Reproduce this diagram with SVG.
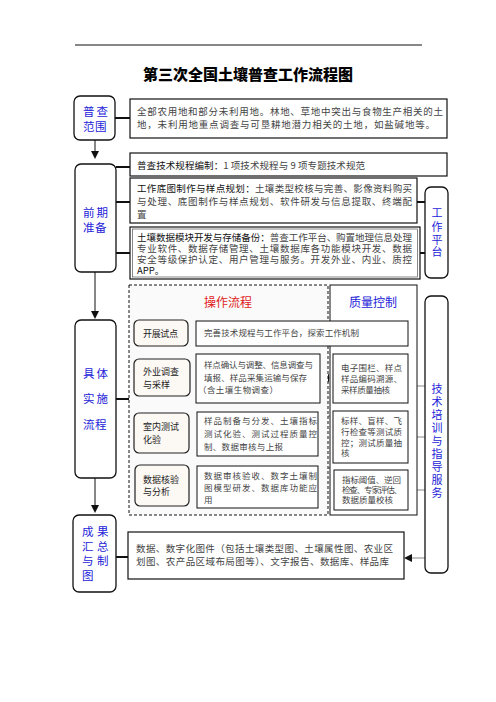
<svg xmlns="http://www.w3.org/2000/svg" width="496" height="702" viewBox="0 0 496 702">
<style>
text{font-family:"Noto Sans CJK SC","Noto Sans",sans-serif}
.b{fill:#fff;stroke:#111;stroke-width:1.2}
.bi{fill:#fff;stroke:#111;stroke-width:1}
.lb{fill:#fff;stroke:#111;stroke-width:1.3}
.on{fill:#fcf8f4;stroke:#222;stroke-width:1.2}
.bl{fill:#2323d8;font-size:11.5px}
.bv{fill:#2323d8;font-size:11px;text-anchor:middle}
.t{fill:#444;font-size:9.5px}
.s{fill:#444;font-size:8.5px}
.k{fill:#111}
.n{fill:#222;font-size:9px}
.c2{stroke:#111;stroke-width:2;fill:none}
.c1{stroke:#111;stroke-width:1;fill:none}
.cg{stroke:#888;stroke-width:1;fill:none}
.ah{fill:#111}
</style>
<rect width="496" height="702" fill="#fff"/>
<line x1="75" y1="45" x2="422" y2="45" stroke="#111" stroke-width="1"/>
<text x="248" y="80" text-anchor="middle" font-size="15" font-weight="900" fill="#000">第三次全国土壤普查工作流程图</text>

<g id="connectors">
<line class="c2" x1="115" y1="118" x2="130" y2="118"/>
<line class="c1" x1="95" y1="140" x2="95" y2="152"/>
<polygon class="ah" points="91,151 99,151 95,159"/>
<line class="c2" x1="116" y1="167" x2="130" y2="167"/>
<line class="c2" x1="116" y1="202" x2="130" y2="202"/>
<line class="c2" x1="116" y1="253" x2="130" y2="253"/>
<line class="c2" x1="417" y1="202" x2="425" y2="202"/>
<line class="c2" x1="420" y1="253" x2="425" y2="253"/>
<line class="c1" x1="95" y1="272" x2="95" y2="311"/>
<polygon class="ah" points="91,311 99,311 95,319"/>
<line class="c2" x1="116" y1="399" x2="130" y2="399"/>
<line class="c1" x1="95" y1="478" x2="95" y2="505"/>
<polygon class="ah" points="91,505 99,505 95,513"/>
<line class="c2" x1="116" y1="557" x2="128" y2="557"/>
<line class="c1" x1="188" y1="333" x2="196" y2="333"/>
<line class="cg" x1="190" y1="378" x2="196" y2="378"/>
<line class="cg" x1="189" y1="415" x2="197" y2="415"/>
<line class="cg" x1="189" y1="467" x2="197" y2="467"/>
<line class="cg" x1="329" y1="378" x2="333" y2="378"/>
<polygon class="ah" points="321,378 329,374 329,382"/>
<line class="cg" x1="326" y1="416" x2="333" y2="416"/>
<polygon class="ah" points="318,416 326,412 326,420"/>
<line class="cg" x1="326" y1="468" x2="334" y2="468"/>
<polygon class="ah" points="318,468 326,464 326,472"/>
<line class="cg" x1="416" y1="386" x2="425" y2="386"/>
<polygon class="ah" points="408,386 416,382 416,390"/>
<line class="cg" x1="416" y1="437" x2="425" y2="437"/>
<polygon class="ah" points="408,437 416,433 416,441"/>
<line class="cg" x1="416" y1="490" x2="425" y2="490"/>
<polygon class="ah" points="408,490 416,486 416,494"/>
<line class="cg" x1="412" y1="558" x2="425" y2="558"/>
<polygon class="ah" points="404,558 412,554 412,562"/>
</g>

<g id="n-scope">
<rect class="lb" x="74" y="96" width="41" height="44" rx="6"/>
<text class="bl" x="83" y="116" letter-spacing="2">普查</text>
<text class="bl" x="83" y="130.5" letter-spacing="0.5">范围</text>
</g>
<g id="b-scope">
<rect class="b" x="130" y="99" width="317" height="39"/>
<text class="t" x="137" y="115" textLength="306">全部农用地和部分未利用地。林地、草地中突出与食物生产相关的土</text>
<text class="t" x="137" y="127.5" textLength="298">地，未利用地重点调查与可垦耕地潜力相关的土地，如盐碱地等。</text>
</g>

<g id="n-prep">
<rect class="lb" x="75" y="164" width="41" height="108" rx="6"/>
<text class="bl" x="83" y="216.5" letter-spacing="2">前期</text>
<text class="bl" x="83" y="231.5" letter-spacing="0.5">准备</text>
</g>
<g id="b-spec">
<rect class="b" x="130" y="153" width="317" height="23"/>
<text class="t" x="137" y="168.5" textLength="228"><tspan class="k">普查技术规程编制：</tspan>1 项技术规程与 9 项专题技术规范</text>
</g>
<g id="b-map">
<rect class="b" x="130" y="178" width="287" height="45"/>
<text class="t" x="137" y="191.5" textLength="275"><tspan class="k">工作底图制作与样点规划：</tspan>土壤类型校核与完善、影像资料购买</text>
<text class="t" x="137" y="205" textLength="275">与处理、底图制作与样点规划、软件研发与信息提取、终端配</text>
<text class="t" x="137" y="218">置</text>
</g>
<g id="b-data">
<rect class="b" x="130" y="227" width="290" height="52"/>
<rect fill="none" stroke="#555" stroke-width="0.7" x="132.5" y="229" width="285" height="48"/>
<text class="t" x="137" y="240.5" textLength="275"><tspan class="k">土壤数据模块开发与存储备份：</tspan>普查工作平台、购置地理信息处理</text>
<text class="t" x="137" y="251.5" textLength="275">专业软件、数据存储管理、土壤数据库各功能模块开发、数据</text>
<text class="t" x="137" y="262.5" textLength="275">安全等级保护认定、用户管理与服务。开发外业、内业、质控</text>
<text class="t k" x="137" y="273.5">APP。</text>
</g>
<g id="n-platform">
<rect class="lb" x="425" y="187" width="23" height="91" rx="6"/>
<text class="bv" x="437" y="217">工</text>
<text class="bv" x="437" y="230.5">作</text>
<text class="bv" x="437" y="244">平</text>
<text class="bv" x="437" y="256">台</text>
</g>

<g id="n-impl">
<rect class="lb" x="75" y="320" width="41" height="158" rx="6"/>
<text class="bl" x="83" y="377.5" letter-spacing="2">具体</text>
<text class="bl" x="83" y="402.5" letter-spacing="2">实施</text>
<text class="bl" x="83" y="429" letter-spacing="0.5">流程</text>
</g>

<g id="g-ops">
<rect fill="#fafafa" stroke="#111" stroke-width="1" stroke-dasharray="3,2" x="129" y="285" width="199" height="230"/>
<text x="228" y="306.5" text-anchor="middle" font-size="12" fill="#e02020">操作流程</text>
</g>
<g id="g-qc">
<rect class="bi" x="330" y="285" width="87" height="230"/>
<text x="373" y="306.5" text-anchor="middle" font-size="12" fill="#2323d8">质量控制</text>
</g>

<g id="n-pilot">
<rect class="on" x="134" y="320" width="54" height="26" rx="5"/>
<text class="n" x="143" y="336.5" textLength="35">开展试点</text>
</g>
<g id="b-pilot">
<rect class="bi" x="196" y="321" width="212" height="25"/>
<text class="s" x="204" y="336" textLength="155">完善技术规程与工作平台，探索工作机制</text>
</g>

<g id="n-field">
<rect class="on" x="134" y="359" width="56" height="37" rx="5"/>
<text class="n" x="143" y="375">外业调查</text>
<text class="n" x="143" y="387.5">与采样</text>
</g>
<g id="b-field">
<rect class="bi" x="196" y="354" width="124" height="49"/>
<text class="s" x="204" y="368" textLength="109">样点确认与调整、信息调查与</text>
<text class="s" x="204" y="381" textLength="103">填报、样品采集运输与保存</text>
<text class="s" x="198" y="393" textLength="80">（含土壤生物调查）</text>
</g>
<g id="q-field">
<rect class="bi" x="333" y="354" width="75" height="49"/>
<text class="s" x="341" y="371" textLength="61">电子围栏、样点</text>
<text class="s" x="341" y="382" textLength="61">样品编码溯源、</text>
<text class="s" x="341" y="392.5" textLength="49">采样质量抽核</text>
</g>

<g id="n-lab">
<rect class="on" x="134" y="413" width="55" height="40" rx="5"/>
<text class="n" x="143" y="429.5">室内测试</text>
<text class="n" x="143" y="442.5">化验</text>
</g>
<g id="b-lab">
<rect class="bi" x="197" y="412" width="121" height="44"/>
<text class="s" x="204" y="424" textLength="113">样品制备与分发、土壤指标</text>
<text class="s" x="204" y="437" textLength="113">测试化验、测试过程质量控</text>
<text class="s" x="204" y="450" textLength="79">制、数据审核与上报</text>
</g>
<g id="q-lab">
<rect class="bi" x="333" y="411" width="75" height="52"/>
<text class="s" x="341" y="423.5" textLength="61">标样、盲样、飞</text>
<text class="s" x="341" y="435" textLength="61">行检查等测试质</text>
<text class="s" x="341" y="445.5" textLength="61">控；测试质量抽</text>
<text class="s" x="341" y="456">核</text>
</g>

<g id="n-verify">
<rect class="on" x="135" y="465" width="54" height="41" rx="5"/>
<text class="n" x="143" y="482.5">数据核验</text>
<text class="n" x="143" y="494.5">与分析</text>
</g>
<g id="b-verify">
<rect class="bi" x="197" y="466" width="121" height="42"/>
<text class="s" x="204" y="479" textLength="113">数据审核验收、数字土壤制</text>
<text class="s" x="204" y="491" textLength="113">图模型研发、数据库功能应</text>
<text class="s" x="204" y="502.5">用</text>
</g>
<g id="q-verify">
<rect class="bi" x="334" y="470" width="74" height="40"/>
<text class="s" x="342" y="483" textLength="59">指标阈值、逆回</text>
<text class="s" x="342" y="493" textLength="60">检查、专家评估、</text>
<text class="s" x="342" y="503" textLength="51">数据质量校核</text>
</g>

<g id="n-training">
<rect class="lb" x="425" y="296" width="23" height="277" rx="6"/>
<text class="bv" x="437" y="392.5">技</text>
<text class="bv" x="437" y="405.5">术</text>
<text class="bv" x="437" y="418.5">培</text>
<text class="bv" x="437" y="431.5">训</text>
<text class="bv" x="437" y="444.5">与</text>
<text class="bv" x="437" y="457.5">指</text>
<text class="bv" x="437" y="470.5">导</text>
<text class="bv" x="437" y="483.5">服</text>
<text class="bv" x="437" y="497">务</text>
</g>

<g id="n-result">
<rect class="lb" x="73" y="515" width="43" height="77" rx="6"/>
<text class="bl" x="82" y="536" letter-spacing="3.5">成果</text>
<text class="bl" x="82" y="550.5" letter-spacing="3.5">汇总</text>
<text class="bl" x="82" y="565" letter-spacing="3.5">与制</text>
<text class="bl" x="82" y="580">图</text>
</g>
<g id="b-result">
<rect class="b" x="128" y="532" width="276" height="47"/>
<text class="t" x="136" y="551.5" textLength="257">数据、数字化图件（包括土壤类型图、土壤属性图、农业区</text>
<text class="t" x="136" y="565" textLength="253">划图、农产品区域布局图等）、文字报告、数据库、样品库</text>
</g>
</svg>
